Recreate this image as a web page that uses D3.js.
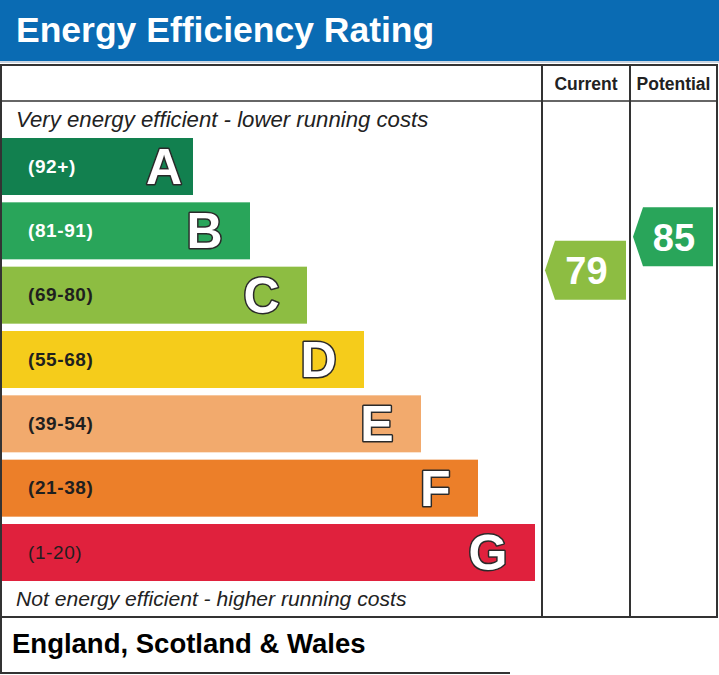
<!DOCTYPE html>
<html>
<head>
<meta charset="utf-8">
<script src="https://cdn.jsdelivr.net/npm/d3@7"></script>
<style>
  body { margin: 0; background: #fff; }
  svg { display: block; font-family: "Liberation Sans", Arial, sans-serif; }
</style>
</head>
<body>
<script>
// Energy Efficiency Rating chart (EPC style)

const bands = ["A", "B", "C", "D", "E", "F", "G"];
const ranges = ["(92+)", "(81-91)", "(69-80)", "(55-68)", "(39-54)", "(21-38)", "(1-20)"];
const bandColors = ["#12804f", "#29a55a", "#8dbd42", "#f5cc1b", "#f2aa6d", "#ec7f29", "#e0213d"];
const columns = ["Current", "Potential"];
const ratings = [79, 85];

const width = 719;
const height = 675;

function bandOf(v) {
  const mins = [92, 81, 69, 55, 39, 21, 1];
  return mins.findIndex((m) => v >= m);
}

function buildChart() {
  const svg = d3
    .select("body")
    .append("svg")
    .attr("width", width)
    .attr("height", height);

  // title bar
  svg.append("rect").attr("x", 0).attr("y", 0).attr("width", width).attr("height", 61).attr("fill", "#0a6bb3");
  svg.append("rect").attr("x", 0).attr("y", 61).attr("width", width).attr("height", 2).attr("fill", "#c9d5e2");
  svg
    .append("text")
    .attr("x", 16)
    .attr("y", 42)
    .attr("font-size", "35.5px")
    .attr("font-weight", "bold")
    .attr("fill", "#fff")
    .text("Energy Efficiency Rating");

  const tableLeft = 2;
  const tableRight = 717;
  const tableTop = 65;
  const headRow = 101;
  const tableBottom = 617;
  const colX = [542, 630];

  const yBand = d3
    .scaleBand()
    .domain(bands)
    .range([138, 581])
    .paddingInner(0.114)
    .paddingOuter(0);

  const xEnd = d3.scaleLinear().domain([0, bands.length - 1]).range([193, 535]);

  // score -> vertical position of the arrows
  const yScore = d3.scaleLinear().domain([100, 0]).range([153, 711]);

  const bars = svg
    .selectAll("g.band")
    .data(bands)
    .enter()
    .append("g")
    .attr("class", "band");

  bars
    .append("rect")
    .attr("x", tableLeft)
    .attr("y", (d) => yBand(d))
    .attr("width", (d, i) => xEnd(i) - tableLeft)
    .attr("height", yBand.bandwidth())
    .attr("fill", (d, i) => bandColors[i]);

  bars
    .append("text")
    .attr("x", 28)
    .attr("y", (d) => yBand(d) + yBand.bandwidth() / 2 + 1)
    .attr("dominant-baseline", "middle")
    .attr("font-size", "19px")
    .attr("letter-spacing", "0.6px")
    .attr("font-weight", (d, i) => (i === 6 ? "normal" : "bold"))
    .attr("fill", (d, i) => (i < 2 ? "#fff" : "#1f1f1f"))
    .text((d, i) => ranges[i]);

  bars
    .append("text")
    .attr("x", (d, i) => (i === 0 ? xEnd(i) - 11 : xEnd(i) - 27.5))
    .attr("y", (d) => yBand(d) + yBand.bandwidth() / 2 + 17.5)
    .attr("text-anchor", "end")
    .attr("font-size", "50px")
    .attr("font-weight", "bold")
    .attr("fill", "#fff")
    .attr("stroke", "#2a2a2a")
    .attr("stroke-width", 3)
    .attr("paint-order", "stroke")
    .attr("stroke-linejoin", "round")
    .text((d) => d);

  // captions
  svg
    .append("text")
    .attr("x", 16)
    .attr("y", 127)
    .attr("font-size", "22.2px")
    .attr("font-style", "italic")
    .attr("fill", "#222")
    .text("Very energy efficient - lower running costs");

  svg
    .append("text")
    .attr("x", 16)
    .attr("y", 606)
    .attr("font-size", "21.1px")
    .attr("font-style", "italic")
    .attr("fill", "#222")
    .text("Not energy efficient - higher running costs");

  // rating arrows
  const colLeft = [colX[0], colX[1]];
  const colRight = [colX[1], tableRight];
  const arrowH = 59;
  const tip = 10;

  const arrows = svg
    .selectAll("g.rating")
    .data(ratings)
    .enter()
    .append("g")
    .attr("class", "rating");

  arrows
    .append("path")
    .attr("d", (v, i) => {
      const x0 = colLeft[i] + 3;
      const x1 = colRight[i] - 4;
      const cy = yScore(v);
      const p = d3.path();
      p.moveTo(x0, cy);
      p.lineTo(x0 + tip, cy - arrowH / 2);
      p.lineTo(x1, cy - arrowH / 2);
      p.lineTo(x1, cy + arrowH / 2);
      p.lineTo(x0 + tip, cy + arrowH / 2);
      p.closePath();
      return p.toString();
    })
    .attr("fill", (v) => bandColors[bandOf(v)]);

  arrows
    .append("text")
    .attr("x", (v, i) => (colLeft[i] + 3 + colRight[i] - 4) / 2 + 1)
    .attr("y", (v) => yScore(v) + 14)
    .attr("text-anchor", "middle")
    .attr("font-size", "38px")
    .attr("font-weight", "bold")
    .attr("fill", "#fff")
    .text((v) => v);

  // table lines
  const line = "#333";
  svg
    .append("rect")
    .attr("x", tableLeft - 1)
    .attr("y", tableTop)
    .attr("width", tableRight - tableLeft + 1)
    .attr("height", tableBottom - tableTop)
    .attr("fill", "none")
    .attr("stroke", line)
    .attr("stroke-width", 2);

  svg
    .append("line")
    .attr("x1", tableLeft)
    .attr("x2", tableRight)
    .attr("y1", headRow)
    .attr("y2", headRow)
    .attr("stroke", line)
    .attr("stroke-width", 1.5);

  svg
    .selectAll("line.col")
    .data(colX)
    .enter()
    .append("line")
    .attr("class", "col")
    .attr("x1", (d) => d)
    .attr("x2", (d) => d)
    .attr("y1", tableTop)
    .attr("y2", tableBottom)
    .attr("stroke", line)
    .attr("stroke-width", 2);

  svg
    .selectAll("text.colhead")
    .data(columns)
    .enter()
    .append("text")
    .attr("class", "colhead")
    .attr("x", (d, i) => (colLeft[i] + colRight[i]) / 2)
    .attr("y", 90)
    .attr("text-anchor", "middle")
    .attr("font-size", "17.5px")
    .attr("font-weight", "bold")
    .attr("fill", "#222")
    .text((d) => d);

  // footer
  svg
    .append("path")
    .attr("d", `M${tableLeft - 1},${tableBottom} V673 H510`)
    .attr("fill", "none")
    .attr("stroke", line)
    .attr("stroke-width", 2);

  svg
    .append("text")
    .attr("x", 12)
    .attr("y", 653)
    .attr("font-size", "27.5px")
    .attr("font-weight", "bold")
    .attr("fill", "#000")
    .text("England, Scotland & Wales");
}

buildChart();
</script>
</body>
</html>
